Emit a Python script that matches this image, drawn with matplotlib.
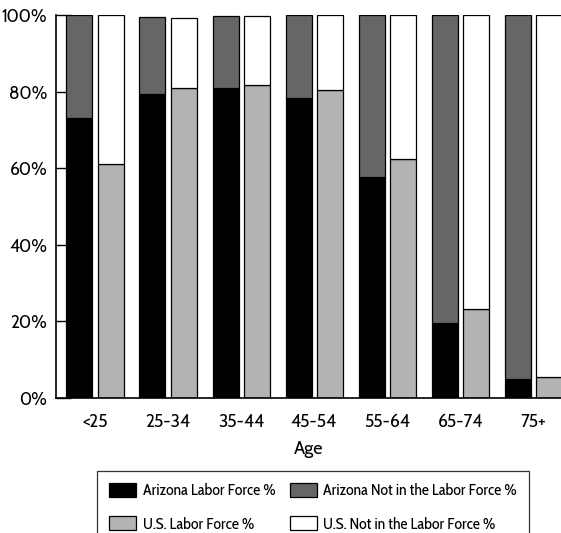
import numpy as np
import matplotlib
matplotlib.use("Agg")
import matplotlib.pyplot as plt
from matplotlib.ticker import PercentFormatter

ages = ["<25", "25-34", "35-44", "45-54", "55-64", "65-74", "75+"]
az_labor = [73.0, 79.3, 80.8, 78.4, 57.6, 19.5, 4.9]
az_not = [27.0, 20.1, 18.9, 21.6, 42.4, 80.5, 95.1]
us_labor = [61.0, 80.9, 81.7, 80.4, 62.3, 23.2, 5.4]
us_not = [39.0, 18.2, 18.0, 19.6, 37.7, 76.8, 94.6]

plt.rcParams['font.family'] = ['Cabin', 'DejaVu Sans']

fig = plt.figure(figsize=(5.61, 5.33), dpi=100)
ax = fig.add_axes([0.0993, 0.2533, 0.9007, 0.7187])

x = np.arange(len(ages))
w = 0.356
off = 0.213
kw = dict(width=w, edgecolor='black', linewidth=0.9)

b1 = ax.bar(x - off, az_labor, color='black', label='Arizona Labor Force %', **kw)
b2 = ax.bar(x - off, az_not, bottom=az_labor, color='#666666',
            label='Arizona Not in the Labor Force %', **kw)
b3 = ax.bar(x + off, us_labor, color='#b3b3b3', label='U.S. Labor Force %', **kw)
b4 = ax.bar(x + off, us_not, bottom=us_labor, color='white',
            label='U.S. Not in the Labor Force %', **kw)

ax.set_xlim(-0.538, 6.38)
ax.set_ylim(0, 100)
ax.set_yticks([0, 20, 40, 60, 80, 100])
ax.yaxis.set_major_formatter(PercentFormatter(decimals=0))
ax.set_xticks(x)
ax.set_xticklabels(ages)
ax.set_axisbelow(True)
ax.tick_params(axis='y', direction='in', length=11, width=1, pad=6, labelsize=12.5)
ax.tick_params(axis='x', length=0, pad=11, labelsize=12.5)
for s in ['top', 'right']:
    ax.spines[s].set_visible(False)
ax.spines['left'].set_linewidth(1.2)
ax.spines['bottom'].set_linewidth(1.2)
ax.set_xlabel("Age", fontsize=13, labelpad=6.5)

leg = fig.legend([b1, b3, b2, b4],
                 [b1.get_label(), b3.get_label(), b2.get_label(), b4.get_label()],
                 ncol=2, loc='upper left', bbox_to_anchor=(0.173, 0.1163),
                 fancybox=False, edgecolor='#333333', framealpha=1,
                 prop={'family': ['Cabin Condensed', 'DejaVu Sans'], 'size': 11.5},
                 handlelength=1.7, handleheight=0.95, handletextpad=0.4,
                 labelspacing=1.05, borderpad=0.75, borderaxespad=0, columnspacing=0.9)
leg.get_frame().set_linewidth(0.9)

fig.savefig("out.png", dpi=100)
